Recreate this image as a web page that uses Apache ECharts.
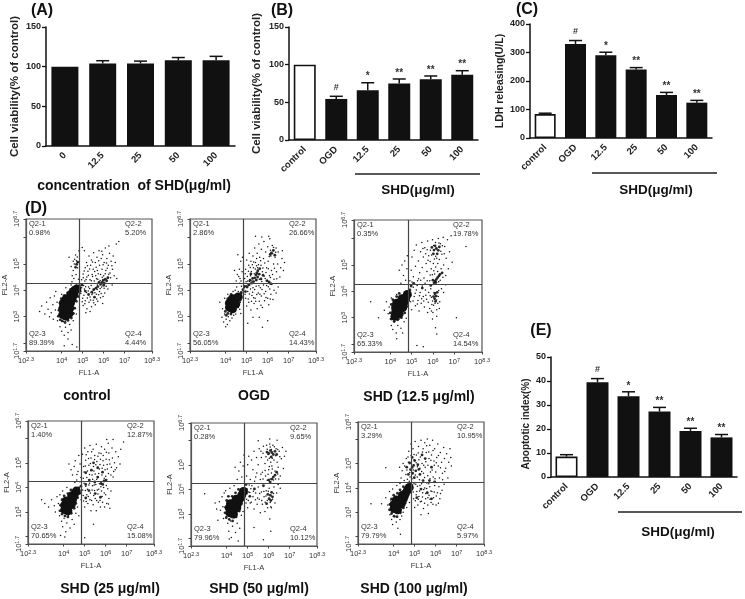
<!DOCTYPE html>
<html><head><meta charset="utf-8">
<style>html,body{margin:0;padding:0;background:#fff}#c{width:745px;height:599px}</style>
<script src="https://cdn.jsdelivr.net/npm/echarts@6/dist/echarts.min.js"></script>
</head><body><div id="c"></div>
<script>
// ---------- bar panels ----------
const catsA = ['0','12.5','25','50','100'];
const valsA = [100,104,104,108,108];
const errA  = [100,107.5,107,111.5,113];
const sigA  = ['','','','',''];

const catsB = ['control','OGD','12.5','25','50','100'];
const valsB = [100,54.5,66,75,80.5,86.5];
const errB  = [100,58,76,81,85,92];
const sigB  = ['','#','*','**','**','**'];

const catsC = ['control','OGD','12.5','25','50','100'];
const valsC = [84,330,290,240,151,124];
const errC  = [87,342,301,247,160,132];
const sigC  = ['','#','*','**','**','**'];

const catsE = ['control','OGD','12.5','25','50','100'];
const valsE = [8.5,39.5,33.6,27.3,19.2,16.5];
const errE  = [9.3,41,35.5,29,20.3,17.7];
const sigE  = ['','#','*','**','**','**'];

// ---------- flow cytometry panels: log10 fluorescence ----------
const xTicks = [2.3,4,5,6,7,8.3];
const yTicks = [1.7,3,4,5,6.7];
const yMinor = [2,6];
const quad1 = ['0.98%','5.20%','89.39%','4.44%'];
const quad2 = ['2.86%','26.66%','56.05%','14.43%'];
const quad3 = ['0.35%','19.78%','65.33%','14.54%'];
const quad4 = ['1.40%','12.87%','70.65%','15.08%'];
const quad5 = ['0.28%','9.65%','79.96%','10.12%'];
const quad6 = ['3.29%','10.95%','79.79%','5.97%'];
const gate1 = [4.85,4.28], gate2 = [4.82,4.28], gate3 = [4.85,4.28], gate4 = [4.85,4.25], gate5 = [4.85,4.25], gate6 = [4.85,4.25];

const core1 = [[4.05,3.08],[4.2,3.02],[4.35,3.12],[4.05,3.3],[4.2,3.25],[4.38,3.32],[4.08,3.5],[4.25,3.48],[4.42,3.52],[4.22,3.68],[4.38,3.7],[4.5,3.68],[4.45,3.85],[4.58,3.85],[4.62,4.0],[4.72,4.05]];
const mid1 = [[5.92,4.3],[5.98,4.38],[6.03,4.27],[6.08,4.42],[6.14,4.36],[6.2,4.47],[5.85,4.22],[5.78,4.3],[5.72,4.14],[6.0,4.19],[5.63,4.08],[5.52,4.02],[5.43,3.93],[5.28,3.84],[5.56,3.74],[5.12,3.97],[4.71,4.98],[4.66,4.87],[4.76,5.07],[3.84,3.02],[3.87,3.24],[3.93,2.88],[4.02,2.84],[4.16,2.78],[4.3,2.86],[4.46,2.95],[4.56,3.12],[4.62,3.32],[4.7,3.58],[4.78,3.76],[3.92,3.52],[3.98,3.68],[4.12,3.8],[4.28,3.9],[4.42,4.03],[4.84,4.17],[4.88,3.96],[4.96,4.2]];
const dots1 = [[4.95,4.4],[5.02,4.62],[5.1,4.35],[5.12,4.85],[5.18,5.05],[5.2,4.5],[5.25,4.72],[5.3,5.3],[5.35,4.4],[5.38,4.95],[5.42,5.15],[5.45,4.6],[5.5,4.8],[5.52,5.42],[5.55,4.35],[5.6,5.05],[5.62,4.55],[5.68,5.25],[5.7,4.75],[5.72,4.42],[5.78,5.5],[5.8,4.95],[5.85,4.6],[5.88,5.2],[5.92,4.8],[5.95,5.35],[6.0,4.55],[6.02,5.05],[6.08,5.6],[6.1,4.75],[6.15,5.2],[6.2,4.5],[6.22,4.95],[6.28,5.4],[6.3,4.65],[6.35,5.1],[6.42,4.8],[6.45,5.3],[6.5,4.55],[6.55,5.05],[6.6,5.75],[6.72,5.85],[6.25,5.68],[6.62,4.45],
[4.5,4.55],[4.55,4.75],[4.6,5.0],[4.62,5.18],[4.68,4.6],[4.7,5.12],[4.75,4.85],[4.78,5.05],[4.8,4.42],[4.45,4.9],[4.55,5.1],[4.35,5.25],[4.82,5.5],[4.98,5.62],[5.08,5.5],
[4.95,4.1],[5.0,3.7],[5.02,3.42],[5.08,4.05],[5.12,3.6],[5.18,3.92],[5.2,3.3],[5.28,4.12],[5.3,3.55],[5.35,3.75],[5.4,4.18],[5.42,3.38],[5.48,3.9],[5.5,3.62],[5.55,4.05],[5.6,3.45],[5.65,3.85],[5.7,4.2],[5.72,3.58],[5.8,3.95],[5.85,3.72],[5.9,4.12],[5.95,3.5],[6.05,3.9],[6.12,4.15],[6.2,4.05],[6.4,4.2],[5.15,3.15],[5.35,3.2],
[3.92,2.62],[4.0,2.45],[4.08,2.82],[4.12,2.3],[4.18,2.6],[4.25,2.9],[4.3,2.15],[4.38,2.7],[4.45,2.5],[4.5,1.95],[4.12,1.9],[4.3,2.4],[4.55,2.85],[4.7,3.1],[4.72,1.85],
[2.95,3.2],[3.05,3.4],[3.2,3.1],[3.28,3.55],[3.35,3.28],[3.45,3.72],[3.5,3.15],[3.58,3.45],[3.65,3.78],[3.7,3.25],[3.78,3.55],[3.6,2.9],[3.42,3.0],[3.8,2.85],[3.72,3.95],[4.0,3.85],[4.2,4.1],[4.45,4.2],
[5.03,4.47],[5.07,4.73],[5.16,4.41],[5.23,4.93],[5.27,4.57],[5.33,4.81],[5.41,4.36],[5.47,4.52],[5.57,4.71],[5.66,4.44],[5.74,4.63],[5.83,4.37],[5.93,4.49],[6.07,4.63],[6.17,4.83],[6.24,4.61],[6.33,4.47],[6.39,4.93],[5.47,5.07],[5.64,4.87],[5.76,5.12],[5.97,4.97],[6.13,5.03],[5.91,5.48],[5.06,3.81],[5.14,4.13],[5.22,3.71],[5.26,3.97],[5.33,4.07],[5.37,3.63],[5.44,3.84],[5.53,3.53],[5.58,3.91],[5.67,3.67],[5.69,4.03],[5.76,3.83],[5.83,4.07],[5.88,3.88],[5.97,3.76],[6.02,4.08],[4.91,3.88],[4.98,3.57],[5.04,4.18],[5.1,3.49],[4.63,3.89],[4.7,4.2],[4.74,5.26],[4.58,4.45],[4.49,4.32],[4.66,5.34]];

const core2 = [[4.18,3.35],[4.32,3.3],[4.18,3.52],[4.35,3.5],[4.48,3.48],[4.32,3.68],[4.48,3.68],[4.6,3.75]];
const mid2 = [[5.38,4.47],[5.44,4.58],[5.48,4.66],[5.53,4.74],[5.58,4.61],[5.33,4.33],[5.28,4.45],[5.23,4.27],[5.16,4.38],[5.46,4.39],[5.52,4.5],[5.62,4.82],[5.09,4.2],[5.02,4.12],[4.94,3.95],[6.18,5.42],[6.27,5.51],[6.12,5.36],[6.34,5.33],[6.06,4.32],[5.96,4.36],[6.14,4.25],[5.2,4.62],[5.68,4.43],[5.78,4.57],[3.98,3.2],[4.02,3.05],[4.1,3.12],[4.25,3.1],[4.44,3.22],[4.58,3.42],[4.68,3.62],[4.03,3.5],[4.1,3.68],[4.26,3.84],[4.74,3.92],[4.82,4.02],[4.9,4.15]];
const dots2 = [[4.45,4.0],[4.5,4.35],[4.55,4.6],[4.6,3.95],[4.65,4.8],[4.68,4.45],[4.72,5.1],[4.75,4.15],[4.78,4.7],[4.8,5.25],[4.42,4.75],[4.58,5.35],
[4.9,4.45],[4.95,4.8],[5.0,5.15],[5.05,4.35],[5.1,4.95],[5.12,5.4],[5.18,4.55],[5.2,5.1],[5.25,4.35],[5.3,5.3],[5.32,4.85],[5.38,5.6],[5.42,5.05],[5.45,4.38],[5.5,5.4],[5.52,4.85],[5.58,5.75],[5.6,4.42],[5.62,5.25],[5.68,4.95],[5.7,5.55],[5.75,4.7],[5.8,5.2],[5.82,5.85],[5.88,4.45],[5.9,5.45],[5.95,4.85],[6.0,5.65],[6.02,5.1],[6.08,4.55],[6.1,5.95],[6.15,5.3],[6.18,4.75],[6.22,5.7],[6.28,5.0],[6.3,4.42],[6.35,5.25],[6.4,5.6],[6.42,4.7],[6.48,5.0],[6.5,5.45],[6.58,4.5],[6.62,4.85],[6.68,5.2],[6.7,5.5],[6.75,4.75],[6.8,5.05],[5.42,6.05],[5.72,6.02],[6.05,6.05],
[4.9,4.1],[4.95,3.7],[5.0,3.4],[5.05,3.95],[5.1,3.55],[5.15,4.2],[5.2,3.25],[5.25,3.8],[5.3,4.1],[5.35,3.5],[5.4,3.7],[5.45,4.15],[5.5,3.3],[5.55,3.9],[5.6,3.58],[5.65,4.1],[5.7,3.78],[5.75,3.35],[5.8,4.2],[5.85,3.6],[5.9,3.95],[5.95,4.18],[6.0,3.7],[6.05,3.45],[6.1,4.05],[6.15,3.85],[6.2,4.22],[6.25,3.65],[6.3,4.0],[6.4,3.9],[6.5,4.12],[5.3,2.98],[5.6,2.98],[5.75,2.6],[5.05,2.75],[6.0,2.85],
[3.82,2.98],[3.9,2.8],[3.95,3.1],[4.02,2.9],[4.08,2.7],[4.12,3.0],[4.2,2.85],[4.3,2.95],[4.38,3.05],[4.48,3.1],[4.0,2.62],[3.85,3.3],[3.72,3.55],[3.95,3.7],[4.1,3.85],[4.35,3.95],[4.6,3.35],[4.7,3.55],[4.72,3.12],
[4.93,4.63],[4.97,4.32],[5.03,4.52],[5.08,4.72],[5.13,4.33],[5.17,4.86],[5.22,4.71],[5.27,4.97],[5.36,4.63],[5.41,4.81],[5.47,4.93],[5.56,4.97],[5.63,4.62],[5.72,4.33],[5.77,4.84],[5.83,4.53],[5.92,4.67],[5.98,4.38],[6.03,4.82],[6.13,4.48],[6.23,4.6],[6.32,4.83],[6.43,4.44],[5.33,5.07],[5.47,5.2],[5.66,5.12],[5.86,5.03],[6.07,5.28],[6.13,5.52],[6.24,5.38],[6.38,5.44],[6.28,5.62],[4.92,3.85],[4.98,4.17],[5.07,3.67],[5.13,3.86],[5.18,4.05],[5.23,3.58],[5.28,3.93],[5.33,3.72],[5.38,4.03],[5.43,3.58],[5.48,3.84],[5.58,4.17],[5.63,3.85],[5.68,3.43],[5.73,4.03],[5.83,3.87],[5.92,3.73],[6.03,4.13],[6.12,3.67],[4.67,4.27],[4.52,4.12],[4.62,4.52],[4.73,4.35],[4.76,3.88],[4.67,3.28]];

const core3 = [[4.25,3.2],[4.42,3.15],[4.25,3.38],[4.42,3.35],[4.58,3.38],[4.3,3.55],[4.48,3.55],[4.65,3.58],[4.55,3.72],[4.72,3.75],[4.8,3.88],[4.22,3.05]];
const mid3 = [[6.1,4.38],[6.16,4.45],[6.22,4.52],[6.28,4.58],[6.05,4.32],[6.0,4.42],[6.14,4.33],[6.33,4.64],[6.43,4.7],[6.1,3.92],[6.15,3.82],[6.08,3.72],[6.2,3.96],[6.03,3.8],[6.12,3.62],[6.16,5.62],[6.05,5.56],[6.25,5.55],[6.1,5.72],[5.95,5.66],[6.3,5.68],[6.02,5.42],[6.2,5.42],[5.5,4.12],[5.9,4.22],[5.1,4.3],[4.0,3.18],[4.05,2.95],[4.18,2.86],[4.35,2.92],[4.52,3.0],[4.68,3.18],[4.78,3.42],[4.05,3.5],[4.12,3.68],[4.3,3.8],[4.42,3.92],[4.86,3.65],[4.92,4.05],[4.98,4.2]];
const dots3 = [[4.55,5.0],[4.62,4.6],[4.68,5.15],[4.72,4.42],[4.78,4.85],[4.8,5.35],[4.42,4.8],[4.5,4.3],
[4.92,4.4],[4.98,4.8],[5.02,5.3],[5.08,4.55],[5.12,5.55],[5.18,4.95],[5.22,5.75],[5.28,4.4],[5.32,5.15],[5.38,4.7],[5.42,5.5],[5.48,5.85],[5.5,4.9],[5.55,5.3],[5.58,4.5],[5.62,5.65],[5.68,5.05],[5.72,4.75],[5.75,5.9],[5.8,5.35],[5.85,4.4],[5.88,5.55],[5.92,4.85],[5.98,5.95],[6.02,5.05],[6.08,4.65],[6.12,5.85],[6.18,5.25],[6.22,4.75],[6.25,6.0],[6.3,5.2],[6.35,5.8],[6.38,4.85],[6.42,5.4],[6.48,6.05],[6.5,5.0],[6.55,5.7],[6.6,4.6],[6.62,5.25],[6.68,5.95],[6.72,4.85],[6.78,5.5],[6.85,6.1],[6.9,5.1],[7.55,5.7],[6.6,4.25],
[4.9,4.0],[4.95,3.6],[5.0,3.3],[5.08,4.15],[5.12,3.8],[5.18,3.45],[5.22,4.05],[5.3,3.65],[5.35,3.25],[5.4,3.95],[5.45,3.55],[5.5,4.2],[5.55,3.8],[5.6,3.4],[5.65,4.05],[5.7,3.7],[5.75,3.2],[5.8,3.95],[5.85,3.35],[5.9,4.1],[5.95,3.5],[6.0,3.2],[6.05,3.95],[6.1,3.55],[6.18,3.3],[6.25,3.8],[6.32,3.6],[6.4,4.1],[6.5,3.95],[6.12,2.62],[6.18,2.38],[5.98,2.95],[5.25,1.95],[5.55,1.9],[7.1,3.0],
[4.0,2.95],[4.05,2.7],[4.12,2.55],[4.2,2.85],[4.28,2.42],[4.35,2.7],[4.42,2.95],[4.5,2.6],[4.58,2.42],[4.65,2.85],[4.75,2.98],[4.3,2.2],[3.95,3.4],[3.82,3.6],[3.9,3.15],[4.05,3.75],[4.3,3.88],[3.08,3.6],[3.45,3.0],[3.72,3.28],
[5.87,5.13],[5.94,5.37],[6.03,5.73],[6.07,5.22],[6.13,5.33],[6.23,5.05],[6.28,5.83],[6.37,5.52],[6.44,5.72],[6.53,5.42],[5.66,5.42],[5.73,5.57],[5.53,5.62],[5.77,5.18],[5.97,4.63],[6.04,4.78],[6.13,4.92],[6.27,4.36],[6.34,4.42],[6.47,4.53],[5.87,4.62],[5.73,4.4],[5.63,4.3],[5.43,4.42],[5.33,4.47],[5.93,3.77],[5.98,3.63],[6.03,3.47],[6.07,3.88],[6.17,3.67],[6.23,3.55],[6.27,4.03],[5.87,3.83],[5.78,3.58],[5.67,3.85],[5.57,3.63],[5.47,3.72],[5.37,3.83],[5.27,3.52],[5.17,3.93],[5.07,3.63],[6.3,3.35],[5.93,3.25],[6.18,3.05],[5.02,4.35],[4.96,3.85],[5.26,4.22]];

const core4 = [[4.05,3.1],[4.2,3.05],[4.05,3.28],[4.2,3.25],[4.36,3.3],[4.12,3.45],[4.28,3.45],[4.42,3.5],[4.38,3.65],[4.5,3.7],[4.6,3.85]];
const mid4 = [[5.22,4.3],[5.48,4.22],[5.78,4.16],[5.92,4.26],[6.02,4.3],[5.86,4.12],[5.32,4.7],[5.62,4.8],[5.05,4.12],[5.2,3.87],[5.5,3.75],[5.75,3.6],[5.05,4.6],[5.85,4.62],[4.82,4.05],[5.42,5.0],[5.05,3.57],[5.62,4.42],[3.82,3.05],[3.85,3.28],[3.92,2.92],[4.06,2.84],[4.2,2.8],[4.36,2.95],[4.5,3.15],[4.58,3.35],[4.66,3.58],[3.92,3.5],[4.02,3.66],[4.2,3.75],[4.34,3.9],[4.72,3.98],[4.76,3.76]];
const dots4 = [[4.42,4.5],[4.5,4.85],[4.55,5.08],[4.62,4.3],[4.68,4.65],[4.72,5.3],[4.78,4.95],[4.82,4.4],[4.35,4.72],[4.25,4.95],
[4.9,5.35],[4.95,4.85],[5.0,5.6],[5.05,5.1],[5.1,4.4],[5.15,5.45],[5.2,4.9],[5.25,5.7],[5.3,5.2],[5.35,4.5],[5.4,5.55],[5.42,4.85],[5.48,5.3],[5.5,4.55],[5.55,5.75],[5.58,5.05],[5.62,4.4],[5.68,5.4],[5.7,4.75],[5.75,5.15],[5.8,5.65],[5.82,4.5],[5.88,5.3],[5.9,4.9],[5.95,5.55],[6.0,4.45],[6.02,5.15],[6.08,4.75],[6.12,5.8],[6.15,5.4],[6.2,4.95],[6.25,4.5],[6.3,5.6],[6.32,5.2],[6.38,4.65],[6.42,5.0],[6.48,5.45],[6.52,4.8],[6.6,5.25],[6.68,4.95],[6.72,5.55],[6.85,5.85],[6.35,5.95],[6.05,5.95],
[4.9,3.9],[4.95,3.45],[5.0,3.2],[5.05,4.05],[5.1,3.7],[5.15,3.35],[5.2,4.1],[5.25,3.5],[5.3,3.05],[5.35,3.9],[5.4,3.3],[5.45,4.1],[5.5,3.55],[5.55,3.05],[5.6,3.9],[5.65,3.4],[5.7,4.15],[5.75,3.2],[5.8,3.85],[5.85,3.4],[5.9,4.0],[5.95,3.2],[6.0,3.7],[6.05,3.35],[6.1,3.95],[6.15,3.55],[6.2,3.15],[6.25,3.85],[5.42,2.5],[5.0,1.95],
[3.8,2.85],[3.9,2.62],[3.95,2.4],[4.02,2.75],[4.1,2.2],[4.15,2.55],[4.22,2.85],[4.3,2.35],[4.4,2.7],[4.5,2.5],[4.58,2.95],[4.72,2.85],[3.85,2.05],[4.05,1.98],
[2.95,3.5],[3.1,3.35],[3.28,3.2],[3.42,3.5],[3.55,3.25],[3.6,3.0],[3.68,3.62],[3.75,3.35],[3.82,3.7],[3.95,3.85],[4.15,4.0],
[4.93,4.37],[4.97,4.63],[5.03,4.87],[5.07,5.33],[5.13,4.67],[5.18,5.18],[5.23,4.53],[5.27,4.97],[5.33,5.45],[5.38,4.33],[5.44,4.67],[5.47,5.13],[5.53,4.92],[5.57,4.33],[5.63,5.27],[5.67,4.57],[5.73,4.93],[5.78,5.38],[5.83,4.78],[5.87,5.08],[5.93,4.37],[5.97,4.72],[6.03,5.43],[6.07,4.93],[6.13,4.57],[6.17,5.12],[6.27,4.82],[6.35,4.42],[6.45,4.72],[4.93,3.67],[4.97,4.17],[5.03,3.87],[5.07,3.43],[5.13,3.93],[5.17,3.63],[5.23,4.17],[5.27,3.77],[5.33,3.47],[5.37,4.07],[5.43,3.67],[5.47,3.87],[5.53,4.12],[5.57,3.47],[5.63,3.73],[5.67,3.93],[5.73,3.47],[5.77,4.03],[5.83,3.63],[5.93,3.77],[6.03,4.08],[6.13,3.33],[4.77,4.23],[4.63,4.53],[4.53,4.2],[4.73,3.83],[4.66,3.2],[4.83,3.5]];

const core5 = [[4.15,3.05],[4.32,3.0],[4.12,3.25],[4.3,3.2],[4.48,3.25],[4.18,3.42],[4.36,3.42],[4.54,3.45],[4.45,3.6],[4.62,3.62],[4.72,3.78],[4.8,3.92]];
const mid5 = [[6.15,5.5],[6.22,5.42],[6.08,5.58],[6.0,5.46],[5.92,5.52],[6.3,5.55],[6.38,5.42],[6.12,5.32],[6.15,4.42],[6.22,4.5],[6.3,4.58],[6.07,4.3],[6.0,4.38],[6.38,4.7],[6.08,3.76],[6.02,3.62],[6.14,3.88],[6.18,3.7],[5.96,3.8],[6.1,3.55],[5.75,4.15],[5.32,4.02],[5.1,3.72],[4.92,4.2],[5.9,3.42],[3.92,3.05],[3.95,3.28],[3.98,2.85],[4.12,2.78],[4.28,2.72],[4.45,2.88],[4.6,3.12],[4.7,3.42],[4.82,3.62],[4.0,3.55],[4.08,3.72],[4.26,3.72],[4.42,3.86],[4.56,4.0],[4.94,4.0]];
const dots5 = [[4.5,4.4],[4.58,4.75],[4.65,5.1],[4.72,4.5],[4.78,4.95],[4.82,5.4],[4.4,4.9],
[4.95,4.55],[5.0,5.0],[5.05,5.35],[5.12,4.4],[5.18,5.2],[5.25,4.8],[5.3,5.55],[5.38,4.5],[5.42,5.3],[5.5,5.0],[5.55,5.65],[5.6,4.4],[5.65,5.3],[5.7,4.7],[5.75,5.75],[5.82,5.05],[5.85,4.55],[5.9,5.8],[5.95,5.2],[6.0,4.8],[6.05,5.85],[6.1,5.1],[6.15,4.95],[6.2,5.8],[6.25,5.2],[6.3,4.75],[6.35,5.65],[6.4,5.1],[6.45,4.9],[6.5,5.55],[6.55,4.55],[6.6,5.25],[6.65,5.7],[6.7,4.85],[6.75,5.35],[6.82,5.55],[6.4,6.0],[6.05,6.05],[5.5,5.98],
[4.9,4.05],[4.95,3.6],[5.0,3.25],[5.05,3.9],[5.12,3.45],[5.2,4.15],[5.25,3.7],[5.3,3.2],[5.38,3.85],[5.45,3.4],[5.5,4.1],[5.55,3.6],[5.6,3.05],[5.65,3.9],[5.7,3.4],[5.78,3.7],[5.82,3.1],[5.88,3.95],[5.95,3.25],[6.02,4.05],[6.1,3.3],[6.18,3.6],[6.25,4.1],[6.3,3.45],[6.38,3.85],[6.45,4.2],[6.55,4.05],[6.05,2.8],[6.1,2.3],[5.75,1.95],[5.3,2.45],
[3.98,2.9],[4.05,2.62],[4.1,2.3],[4.18,2.72],[4.22,2.05],[4.28,2.5],[4.35,2.85],[4.42,2.25],[4.5,2.62],[4.55,1.9],[4.62,2.42],[4.7,2.95],[4.12,1.98],[4.78,3.1],
[2.95,3.82],[3.45,3.45],[3.52,3.2],[3.65,3.5],[3.7,3.15],[3.78,3.7],[3.82,3.3],[3.88,3.85],[3.95,3.95],[4.15,4.05],[4.35,4.15],[3.58,2.75],[3.85,2.82],
[5.87,5.33],[5.93,5.63],[5.97,5.42],[6.03,5.27],[6.07,5.72],[6.13,5.62],[6.17,5.27],[6.27,5.73],[6.33,5.37],[6.43,5.62],[6.53,5.33],[5.73,5.47],[5.63,5.55],[5.93,4.37],[5.97,4.62],[6.03,4.93],[6.07,4.42],[6.13,4.67],[6.17,4.83],[6.23,4.38],[6.33,4.42],[6.43,4.63],[6.48,4.42],[5.83,4.77],[5.73,4.42],[5.63,4.62],[5.43,4.67],[5.33,4.33],[5.93,3.55],[5.98,3.93],[6.07,3.47],[6.13,3.25],[6.23,3.83],[5.87,3.73],[5.83,3.48],[5.77,3.92],[5.67,3.55],[5.57,3.83],[5.47,3.65],[5.37,3.58],[5.27,3.93],[5.17,3.48],[5.1,3.87],[5.03,3.55],[4.97,3.82],[5.15,4.03],[4.92,3.45],[5.07,4.18]];

const core6 = [[4.02,3.15],[4.18,3.1],[4.02,3.32],[4.2,3.3],[4.36,3.35],[4.12,3.5],[4.3,3.5],[4.46,3.55],[4.42,3.7],[4.55,3.75],[4.65,3.9],[4.74,4.02]];
const mid6 = [[4.8,4.75],[4.88,4.84],[4.95,4.92],[4.7,4.55],[5.05,4.7],[5.15,4.95],[4.62,4.85],[5.25,4.55],[4.98,4.42],[5.4,4.3],[5.7,4.3],[5.95,4.25],[5.3,3.95],[5.6,3.8],[5.1,3.6],[5.8,3.55],[5.5,5.2],[5.8,4.85],[4.88,5.25],[5.35,5.35],[4.76,5.02],[5.0,5.12],[5.2,4.76],[4.9,4.6],[3.8,3.1],[3.82,3.32],[3.9,2.95],[4.02,2.84],[4.16,2.82],[4.32,2.98],[4.46,3.18],[4.55,3.38],[4.64,3.6],[3.9,3.55],[4.0,3.7],[4.18,3.78],[4.3,3.92],[4.46,4.05],[4.82,4.14]];
const dots6 = [[4.35,4.4],[4.4,4.7],[4.45,5.0],[4.5,4.3],[4.52,4.9],[4.58,4.55],[4.6,5.2],[4.65,4.35],[4.7,5.05],[4.72,5.5],[4.78,4.45],[4.82,5.8],[4.28,4.85],[3.62,4.82],
[4.92,5.6],[4.98,5.15],[5.02,5.9],[5.08,5.35],[5.12,4.45],[5.18,5.7],[5.2,5.15],[5.25,4.8],[5.3,5.95],[5.35,5.0],[5.4,5.6],[5.42,4.6],[5.48,5.85],[5.5,4.85],[5.55,5.45],[5.6,6.0],[5.62,4.5],[5.68,5.2],[5.72,5.75],[5.75,4.65],[5.8,5.35],[5.85,5.95],[5.88,4.45],[5.92,5.1],[5.95,5.6],[6.0,4.65],[6.05,5.25],[6.1,5.8],[6.12,4.9],[6.18,4.4],[6.22,5.45],[6.28,5.05],[6.32,4.6],[6.38,5.65],[6.42,5.2],[6.48,4.8],[6.52,5.4],[6.58,4.4],[6.62,5.05],[6.68,5.6],[6.72,5.25],[6.75,4.9],
[4.9,4.0],[4.95,3.55],[5.0,3.2],[5.05,4.15],[5.1,3.85],[5.15,3.3],[5.2,3.65],[5.25,4.1],[5.32,3.45],[5.38,3.8],[5.42,3.15],[5.48,4.0],[5.52,3.55],[5.58,4.2],[5.62,3.3],[5.68,3.7],[5.72,4.05],[5.78,3.4],[5.82,3.85],[5.9,3.6],[5.95,4.1],[6.02,3.3],[6.08,3.8],[6.15,4.05],[6.2,3.55],[6.3,3.9],[6.4,4.15],[5.3,2.9],[5.65,2.95],
[3.82,2.9],[3.9,2.7],[3.95,2.5],[4.05,2.82],[4.12,2.6],[4.2,2.95],[4.3,2.7],[4.38,2.85],[4.45,3.0],[4.2,2.35],[4.32,2.1],[4.62,3.2],[4.75,3.4],
[2.92,3.35],[3.42,3.35],[3.62,3.6],[3.72,3.3],[3.8,3.85],[3.85,3.5],[3.95,3.95],[4.15,4.1],[4.3,4.18],
[4.63,4.73],[4.68,5.27],[4.74,4.27],[4.76,4.63],[4.83,5.33],[4.87,4.37],[4.93,4.73],[4.97,5.37],[5.03,4.53],[5.07,5.03],[5.13,4.87],[5.17,5.43],[5.23,4.33],[5.27,5.27],[5.33,4.67],[5.37,5.47],[5.43,4.93],[5.47,4.43],[5.53,5.07],[5.57,5.73],[5.63,4.93],[5.67,5.47],[5.73,4.37],[5.77,5.13],[5.83,4.73],[5.87,5.53],[5.93,4.93],[5.97,4.37],[6.03,5.03],[6.13,5.33],[6.23,4.83],[6.33,4.33],[6.43,4.67],[4.93,3.83],[4.97,4.17],[5.03,3.47],[5.07,3.72],[5.13,4.07],[5.17,3.53],[5.23,3.87],[5.27,3.43],[5.33,4.17],[5.37,3.63],[5.43,3.93],[5.47,3.37],[5.53,3.77],[5.57,3.97],[5.63,3.6],[5.67,4.17],[5.73,3.53],[5.77,3.87],[5.87,3.33],[5.93,3.83],[6.03,3.67],[6.13,3.37],[6.23,3.77]];

const TXT = 'Arial, "Liberation Sans", sans-serif';
const BAR = '#111111';
let grids = [], xAxes = [], yAxes = [], series = [], gfx = [];

function label(text, x, y, size, o) {
  gfx.push({type:'text', silent:true, style:{text, x, y, fontFamily:TXT, fontSize:size,
    fontWeight:(o&&o.w)||'bold', fill:(o&&o.c)||'#111', textAlign:(o&&o.a)||'center', textVerticalAlign:'middle',
    lineHeight:(o&&o.lh)||undefined}});
}
function rule(x1, x2, y) {
  gfx.push({type:'line', silent:true, shape:{x1, y1:y, x2, y2:y}, style:{stroke:'#222', lineWidth:1.4}});
}

function barPanel(cats, vals, errs, sigs, yMax, yStep, yName, box, nameGap, barW, nameSize, namePad) {
  const i = grids.length;
  grids.push({left:box[0], top:box[1], width:box[2], height:box[3]});
  xAxes.push({gridIndex:i, type:'category', data:cats,
    axisLine:{lineStyle:{color:'#111', width:1.5}}, axisTick:{alignWithLabel:true, length:4, lineStyle:{color:'#111', width:1.3}},
    axisLabel:{rotate:45, interval:0, fontFamily:TXT, fontSize:9.5, fontWeight:'bold', color:'#222', margin:8}});
  yAxes.push({gridIndex:i, type:'value', min:0, max:yMax, interval:yStep,
    name:yName, nameLocation:'middle', nameGap, nameTextStyle:{fontFamily:TXT, fontSize:nameSize, fontWeight:'bold', color:'#222', padding:namePad||0},
    splitLine:{show:false}, axisLine:{show:true, lineStyle:{color:'#111', width:1.5}},
    axisTick:{show:true, length:4, lineStyle:{color:'#111', width:1.3}},
    axisLabel:{fontFamily:TXT, fontSize:9, fontWeight:'bold', color:'#222', margin:5}});
  series.push({type:'bar', xAxisIndex:i, yAxisIndex:i, barWidth:barW, animation:false,
    data:vals.map((v,k)=> cats[k]==='control'
      ? {value:v, itemStyle:{color:'#fff', borderColor:'#111', borderWidth:1.6}}
      : {value:v, itemStyle:{color:BAR}})});
  series.push({type:'custom', xAxisIndex:i, yAxisIndex:i, animation:false, silent:true,
    data:errs.map((e,k)=>[k, vals[k], e]),
    encode:{x:0, y:2},
    renderItem:(p, api)=>{
      const k = api.value(0), a = api.coord([k, api.value(1)]), b = api.coord([k, api.value(2)]);
      const kids = [];
      if (b[1] < a[1] - 0.1) {
        kids.push({type:'line', shape:{x1:b[0], y1:a[1], x2:b[0], y2:b[1]}, style:{stroke:'#111', lineWidth:1.5}});
        kids.push({type:'line', shape:{x1:b[0]-6.5, y1:b[1], x2:b[0]+6.5, y2:b[1]}, style:{stroke:'#111', lineWidth:1.5}});
      }
      if (sigs[k]) kids.push({type:'text', style:{text:sigs[k], x:b[0], y:b[1]-(sigs[k]==='#'?9:6), textAlign:'center', textVerticalAlign:'middle',
        fontFamily:TXT, fontSize:sigs[k]==='#'?9:10, fontWeight:'bold', fill:'#333'}});
      return {type:'group', children:kids};
    }});
}

const fmtSup = v => '{b|10}{s|' + v + '}';
const rich = {b:{fontSize:7.5, color:'#333', fontFamily:TXT}, s:{fontSize:5.5, color:'#333', fontFamily:TXT, verticalAlign:'top', padding:[0,0,4,0]}};

function flowPanel(core, mid, dots, quad, gate, box, caption, capXY) {
  const i = grids.length;
  grids.push({left:box[0], top:box[1], width:box[2], height:box[3], show:true, borderColor:'#555', borderWidth:1.2, backgroundColor:'#fff'});
  xAxes.push({gridIndex:i, type:'value', min:2.3, max:8.3, name:'FL1-A', nameLocation:'middle', nameGap:18,
    nameTextStyle:{fontFamily:TXT, fontSize:7.5, color:'#333'}, splitLine:{show:false},
    axisLine:{show:true, lineStyle:{color:'#555', width:1.2}},
    axisTick:{show:true, length:2.5, customValues:xTicks, lineStyle:{color:'#444'}},
    axisLabel:{customValues:xTicks, formatter:fmtSup, rich, margin:5, hideOverlap:false, showMinLabel:true, showMaxLabel:true}});
  yAxes.push({gridIndex:i, type:'value', min:1.7, max:6.7, name:'FL2-A', nameLocation:'middle', nameGap:17,
    nameTextStyle:{fontFamily:TXT, fontSize:7.5, color:'#333'}, splitLine:{show:false},
    axisLine:{show:true, lineStyle:{color:'#555', width:1.2}},
    axisTick:{show:true, length:2.5, customValues:yTicks.concat(yMinor), lineStyle:{color:'#444'}},
    axisLabel:{customValues:yTicks, formatter:fmtSup, rich, rotate:90, margin:4, hideOverlap:false, showMinLabel:true, showMaxLabel:true}});
  const sc = (data, size, op) => ({type:'scatter', xAxisIndex:i, yAxisIndex:i, data, symbolSize:size, animation:false, silent:true,
    itemStyle:{color:'#111', opacity:op}, z:2});
  series.push(sc(mid, 2.8, .9));
  series.push(sc(dots, 1.5, 1));
  const s = sc(core, 9, 1);
  s.markLine = {silent:true, symbol:'none', animation:false, label:{show:false}, lineStyle:{color:'#444', width:1.2, type:'solid'},
    data:[{xAxis:gate[0]},{yAxis:gate[1]}]};
  series.push(s);
  const names = ['Q2-1','Q2-2','Q2-3','Q2-4'];
  const pos = [[3,9],[99,9],[3,box[3]-13],[99,box[3]-13]];
  names.forEach((n,k)=>{
    label(n+'\n'+quad[k], box[0]+pos[k][0], box[1]+pos[k][1], 7.5, {a:'left', w:'normal', c:'#333', lh:9});
  });
  label(caption, capXY[0], capXY[1], 14);
}

// bar charts
barPanel(catsA, valsA, errA, sigA, 150, 50, 'Cell viability(% of control)', [46,27,189,119], 25, 27, 11.5);
barPanel(catsB, valsB, errB, sigB, 150, 50, 'Cell viability(% of control)', [289,27,189,113], 26, 22, 11.5);
barPanel(catsC, valsC, errC, sigC, 400, 100, 'LDH releasing(U/L)', [530,24,182,114], 24, 21, 10.5);
barPanel(catsE, valsE, errE, sigE, 50, 10, 'Apoptotic index(%)', [551,357,186,120], 20, 22, 10, [0,14,0,0]);

// flow plots
flowPanel(core1, mid1, dots1, quad1, gate1, [26,219,126,132], 'control', [87,396]);
flowPanel(core2, mid2, dots2, quad2, gate2, [190,219,126,132], 'OGD', [254,396]);
flowPanel(core3, mid3, dots3, quad3, gate3, [354,220,128,132], 'SHD (12.5 μg/ml)', [419,397]);
flowPanel(core4, mid4, dots4, quad4, gate4, [28,421,126,123], 'SHD (25 μg/ml)', [110,589]);
flowPanel(core5, mid5, dots5, quad5, gate5, [191,423,126,123], 'SHD (50 μg/ml)', [259,589]);
flowPanel(core6, mid6, dots6, quad6, gate6, [358,422,126,122], 'SHD (100 μg/ml)', [414,589]);

// panel letters
label('(A)', 42, 11, 16); label('(B)', 282, 11, 16); label('(C)', 527, 10, 16);
label('(D)', 36, 209, 16); label('(E)', 541, 331, 16);
// group captions
label('concentration  of SHD(μg/ml)', 134, 186, 14);
rule(355,480,174); label('SHD(μg/ml)', 418, 190, 13.5);
rule(592,717,173); label('SHD(μg/ml)', 656, 190, 13.5);
rule(618,742,512); label('SHD(μg/ml)', 678, 532, 13.5);

const chart = echarts.init(document.getElementById('c'), null, {renderer:'canvas'});
chart.setOption({animation:false, backgroundColor:'#fff', grid:grids, xAxis:xAxes, yAxis:yAxes, series, graphic:gfx});
</script></body></html>
